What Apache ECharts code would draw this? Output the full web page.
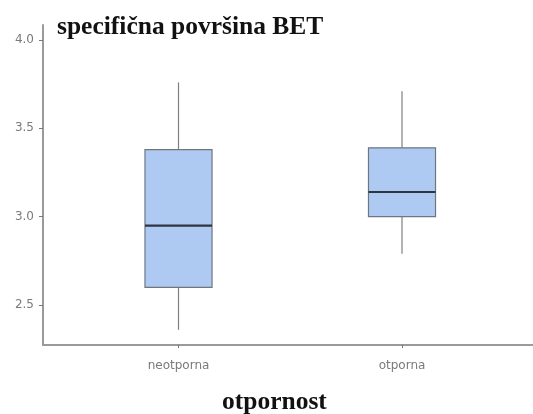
<!DOCTYPE html>
<html>
<head>
<meta charset="utf-8">
<script src="https://cdn.jsdelivr.net/npm/echarts@6/dist/echarts.min.js"></script>
<style>
  html, body { margin: 0; padding: 0; background: #fff; }
  #chart { width: 533px; height: 414px; }
</style>
</head>
<body>
<div id="chart"></div>
<script>
// data
var categories = ['neotporna', 'otporna'];
var lowerWhisker = [2.36, 2.79];
var q1 = [2.60, 3.00];
var median = [2.95, 3.14];
var q3 = [3.38, 3.39];
var upperWhisker = [3.76, 3.71];
var yTicks = [2.5, 3.0, 3.5, 4.0];

var boxData = categories.map(function (c, i) {
    return [i, lowerWhisker[i], q1[i], median[i], q3[i], upperWhisker[i]];
});

var dom = document.getElementById('chart');
var myChart = echarts.init(dom);

function renderBox(params, api) {
    var x = api.value(0);
    var pLo = api.coord([x, api.value(1)]);
    var pQ1 = api.coord([x, api.value(2)]);
    var pMed = api.coord([x, api.value(3)]);
    var pQ3 = api.coord([x, api.value(4)]);
    var pHi = api.coord([x, api.value(5)]);
    var half = api.size([1, 0])[0] * 0.3 / 2;
    var cx = pMed[0];
    var whisker = { stroke: '#7f7f7f', lineWidth: 1.2 };
    return {
        type: 'group',
        children: [
            { type: 'line', shape: { x1: cx, y1: pLo[1], x2: cx, y2: pQ1[1] }, style: whisker },
            { type: 'line', shape: { x1: cx, y1: pQ3[1], x2: cx, y2: pHi[1] }, style: whisker },
            {
                type: 'rect',
                shape: { x: cx - half, y: pQ3[1], width: half * 2, height: pQ1[1] - pQ3[1] },
                style: { fill: '#aecaf2', stroke: '#6f7680', lineWidth: 1.2 }
            },
            { type: 'line', shape: { x1: cx - half, y1: pMed[1], x2: cx + half, y2: pMed[1] },
              style: { stroke: '#2f3540', lineWidth: 2.2 } }
        ]
    };
}

myChart.setOption({
    animation: false,
    title: [{
        text: 'specifična površina BET',
        left: 57,
        top: 14,
        padding: 0,
        textStyle: { fontFamily: 'Liberation Serif', fontWeight: 'bold', fontSize: 25.5, color: '#111' }
    }, {
        text: 'otpornost',
        left: 222,
        top: 389,
        padding: 0,
        textStyle: { fontFamily: 'Liberation Serif', fontWeight: 'bold', fontSize: 25.5, color: '#111' }
    }],
    grid: [
        { left: 66.75, right: 19.25, top: 25, bottom: 69 },
        { left: 43, right: 0, top: 25, bottom: 69 }
    ],
    xAxis: [{
        type: 'category',
        gridIndex: 0,
        data: categories,
        axisLine: { show: false },
        axisTick: { show: true, alignWithLabel: true, length: 3, lineStyle: { color: '#777' } },
        axisLabel: { color: '#7a7a7a', fontSize: 12, fontFamily: 'DejaVu Sans', margin: 15 },
        splitLine: { show: false }
    }, {
        type: 'value',
        gridIndex: 1,
        min: 0,
        max: 1,
        axisLine: { show: true, lineStyle: { color: '#9a9a9a', width: 2 } },
        axisTick: { show: false },
        axisLabel: { show: false },
        splitLine: { show: false }
    }],
    yAxis: [{
        type: 'value',
        gridIndex: 0,
        min: 2.274,
        max: 4.085,
        offset: 23.75,
        axisLine: { show: true, lineStyle: { color: '#9a9a9a', width: 2 } },
        axisTick: { show: true, length: 4, customValues: yTicks, lineStyle: { color: '#777' } },
        axisLabel: {
            show: true, customValues: yTicks, color: '#7a7a7a', fontSize: 12,
            fontFamily: 'DejaVu Sans', margin: 9,
            formatter: function (v) { return v.toFixed(1); }
        },
        splitLine: { show: false }
    }, {
        type: 'value',
        gridIndex: 1,
        show: false
    }],
    series: [{
        type: 'custom',
        xAxisIndex: 0,
        yAxisIndex: 0,
        renderItem: renderBox,
        encode: { x: 0, y: [1, 2, 3, 4, 5] },
        data: boxData
    }]
});
window.addEventListener('resize', function () {
    myChart.resize();
});
</script>
</body>
</html>
